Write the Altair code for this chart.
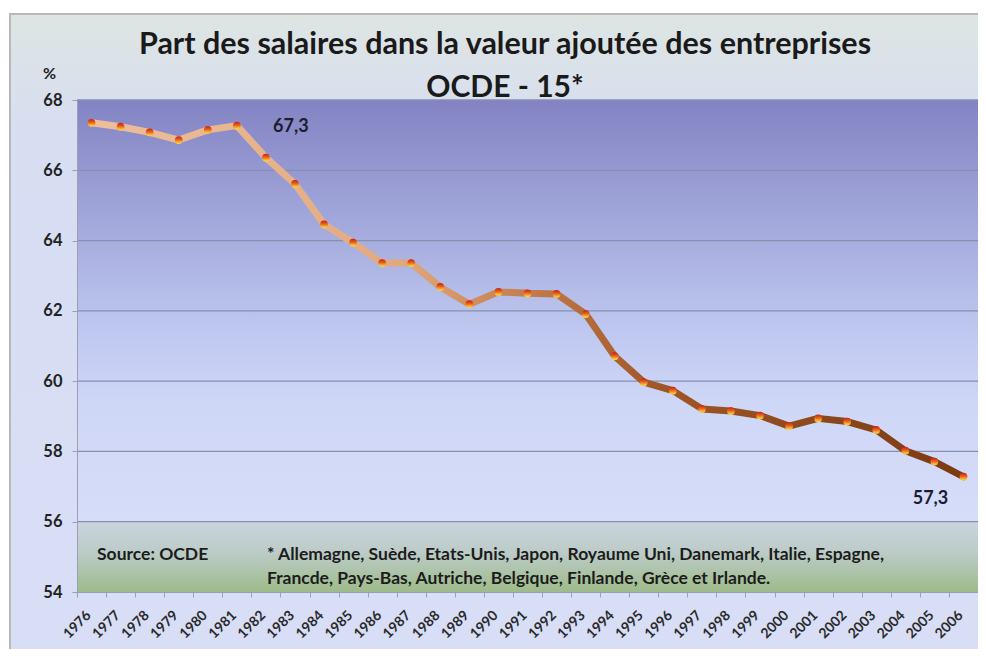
import altair as alt
import pandas as pd

years = [str(y) for y in range(1976, 2007)]
values = [67.35, 67.24, 67.08, 66.86, 67.15, 67.27, 66.36, 65.61, 64.46, 63.94,
          63.36, 63.36, 62.68, 62.19, 62.54, 62.50, 62.48, 61.91, 60.71, 59.97,
          59.73, 59.21, 59.15, 59.02, 58.72, 58.94, 58.85, 58.61, 58.02, 57.71, 57.28]
y_ticks = [54, 56, 58, 60, 62, 64, 66, 68]
grid_values = [56, 58, 60, 62, 64, 66, 68]
title_lines = ["Part des salaires dans la valeur ajoutée des entreprises", "OCDE - 15*"]
annot_years = ["1981", "2006"]
annot_values = [67.3, 57.3]
annot_labels = ["67,3", "57,3"]
source_text = "Source: OCDE"
note_lines = ["* Allemagne, Suède, Etats-Unis, Japon, Royaume Uni, Danemark, Italie, Espagne,",
              "Francde, Pays-Bas, Autriche, Belgique, Finlande, Grèce et Irlande."]

W, H = 901, 492
FONT = "Lato"

df = pd.DataFrame({"year": years, "value": values})
ann = pd.DataFrame({"year": annot_years, "value": annot_values, "label": annot_labels})
grid = pd.DataFrame({"g": grid_values})

xscale = alt.Scale(type="band", paddingInner=0, paddingOuter=0, domain=years)
yscale = alt.Scale(domain=[54, 68], nice=False, zero=False)

frame = alt.Chart().mark_rect(
    fill=alt.Gradient(gradient="linear", x1=0, x2=0, y1=0, y2=1,
                      stops=[alt.GradientStop(offset=0, color="#DDE5E2"),
                             alt.GradientStop(offset=0.18, color="#D7DEF2"),
                             alt.GradientStop(offset=1, color="#D8DEF6")]),
    stroke="#B8B8B8", strokeWidth=2
).encode(x=alt.value(-67), x2=alt.value(W + 40), y=alt.value(-86), y2=alt.value(H + 80))

plot_bg = alt.Chart().mark_rect(
    fill=alt.Gradient(gradient="linear", x1=0, x2=0, y1=0, y2=1,
                      stops=[alt.GradientStop(offset=0, color="#8383C3"),
                             alt.GradientStop(offset=0.35, color="#A9B0E0"),
                             alt.GradientStop(offset=0.55, color="#BFC8F0"),
                             alt.GradientStop(offset=0.72, color="#CFD7F7"),
                             alt.GradientStop(offset=1, color="#D6DDF9")])
).encode(x=alt.value(0), x2=alt.value(W), y=alt.datum(68), y2=alt.datum(56))

green_bg = alt.Chart().mark_rect(
    fill=alt.Gradient(gradient="linear", x1=0, x2=0, y1=0, y2=1,
                      stops=[alt.GradientStop(offset=0, color="#CAD4DF"),
                             alt.GradientStop(offset=0.45, color="#BBCBC6"),
                             alt.GradientStop(offset=1, color="#9EBB8A")])
).encode(x=alt.value(0), x2=alt.value(W), y=alt.datum(56), y2=alt.datum(54))

rules = alt.Chart(grid).mark_rule(color="#8490AE", strokeWidth=1.3).encode(
    y=alt.Y("g:Q", scale=yscale), x=alt.value(0), x2=alt.value(W))

line = alt.Chart(df).mark_line(
    strokeWidth=7, strokeCap="round", strokeJoin="round",
    stroke=alt.Gradient(gradient="linear", x1=0, x2=1, y1=0, y2=0,
                        stops=[alt.GradientStop(offset=0, color="#EDBF9D"),
                               alt.GradientStop(offset=0.35, color="#E2A97F"),
                               alt.GradientStop(offset=0.5, color="#C47C4C"),
                               alt.GradientStop(offset=0.65, color="#A05727"),
                               alt.GradientStop(offset=1, color="#7C3A12")])
).encode(
    x=alt.X("year:O", scale=xscale, bandPosition=0.5, sort=None,
            axis=alt.Axis(title=None, labelAngle=-45, labelFont=FONT, labelFontWeight="bold",
                          labelFontSize=14, labelColor="#2A2A2A", tickBand="extent",
                          domainColor="#9AA0B0", tickColor="#9AA0B0", tickSize=5,
                          labelPadding=16, labelAlign="right", labelBaseline="middle",
                          labelOffset=-3, zindex=1)),
    y=alt.Y("value:Q", scale=yscale,
            axis=alt.Axis(values=y_ticks, grid=False, title="%", titleAngle=0,
                          titleX=-28, titleY=-19, titleAlign="center", titleBaseline="bottom",
                          titleFont=FONT, titleFontSize=16, titleFontWeight="bold", titleColor="#222222",
                          labelFont=FONT, labelFontWeight="bold", labelFontSize=16.5, labelColor="#222222",
                          domainColor="#9AA0B0", tickColor="#9AA0B0", tickSize=5, labelPadding=10,
                          zindex=1))
)

points = alt.Chart(df).mark_circle(
    size=60, opacity=1,
    fill=alt.Gradient(gradient="linear", x1=0, x2=0, y1=0, y2=1,
                      stops=[alt.GradientStop(offset=0, color="#C81E18"),
                             alt.GradientStop(offset=0.45, color="#E8601E"),
                             alt.GradientStop(offset=0.75, color="#F0B030"),
                             alt.GradientStop(offset=1, color="#F4DA60")])
).encode(x=alt.X("year:O", scale=xscale, bandPosition=0.5, sort=None),
         y=alt.Y("value:Q", scale=yscale))

ann_base = alt.Chart(ann).encode(
    x=alt.X("year:O", scale=xscale, bandPosition=0.5, sort=None),
    y=alt.Y("value:Q", scale=yscale),
    text="label:N",
)
ann_top = ann_base.transform_filter(alt.datum.year == "1981").mark_text(
    font=FONT, fontWeight="bold", fontSize=18, color="#1C1C30", dx=54, dy=2)
ann_bot = ann_base.transform_filter(alt.datum.year == "2006").mark_text(
    font=FONT, fontWeight="bold", fontSize=18, color="#1C1C30", dx=-33, dy=23)

title1 = alt.Chart().mark_text(font=FONT, fontWeight="bold", fontSize=30.5, color="#1A1A1A",
                               align="center", baseline="alphabetic").encode(
    x=alt.value(428), y=alt.value(-46), text=alt.value(title_lines[0]))
title2 = alt.Chart().mark_text(font=FONT, fontWeight="bold", fontSize=30, color="#1A1A1A",
                               align="center", baseline="alphabetic").encode(
    x=alt.value(428), y=alt.value(-3), text=alt.value(title_lines[1]))

txt = dict(font=FONT, fontWeight="bold", fontSize=17.5, color="#1C1C1C", align="left", baseline="middle")
src = alt.Chart().mark_text(**txt).encode(
    x=alt.value(20), y=alt.datum(55.05), text=alt.value(source_text))
note1 = alt.Chart().mark_text(**txt).encode(
    x=alt.value(190), y=alt.datum(55.05), text=alt.value(note_lines[0]))
note2 = alt.Chart().mark_text(**txt).encode(
    x=alt.value(190), y=alt.datum(54.37), text=alt.value(note_lines[1]))

chart = alt.layer(frame, plot_bg, green_bg, rules, line, points, ann_top, ann_bot,
                  title1, title2, src, note1, note2).properties(
    width=W, height=H,
    autosize=alt.AutoSizeParams(type="none"),
    padding={"left": 69, "top": 92, "right": 0, "bottom": 57},
    background="white",
).configure_view(stroke=None)

chart.save("out.html", embed_options={"renderer": "svg", "actions": False})
